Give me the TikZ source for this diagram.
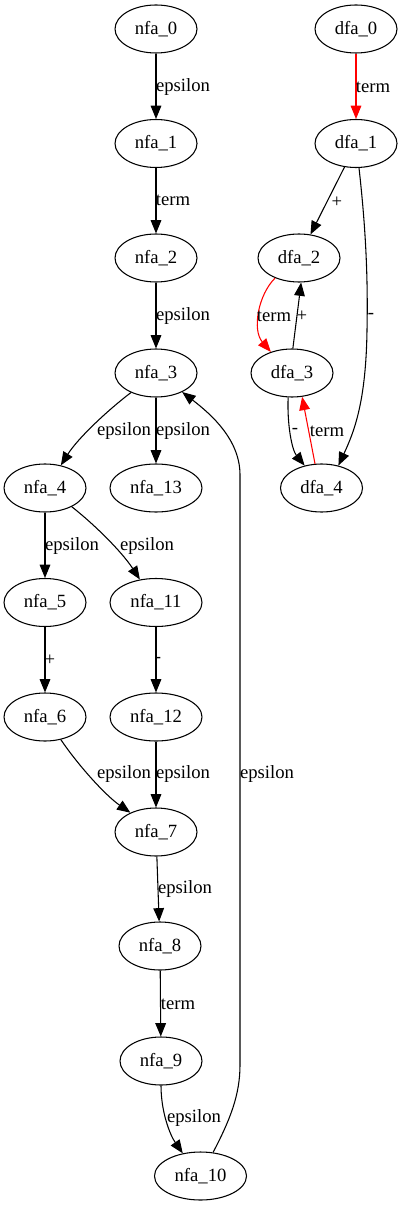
\documentclass[tikz,border=0pt]{standalone}
\usepackage{fontspec}
\setmainfont{Liberation Serif}
\usetikzlibrary{shapes.geometric,arrows.meta}
\begin{document}
\begin{tikzpicture}[x=0.75pt,y=-0.75pt,
  every node/.style={font=\fontsize{14}{16}\selectfont},
  st/.style={draw,ellipse,line width=0.8pt,minimum width=61.5pt,minimum height=36pt,inner sep=0pt},
  stw/.style={st,minimum width=69pt},
  edge/.style={line width=0.8pt,-{Triangle[length=10pt,width=8pt]}},
  redge/.style={edge,draw=red,-{Triangle[length=10pt,width=8pt,fill=red]}},
  lbl/.style={inner sep=0pt}]
\useasboundingbox (0,0) rectangle (402,1205);
% NFA nodes
\node[st] (nfa0) at (156,29) {nfa\_0};
\node[st] (nfa1) at (156,143.5) {nfa\_1};
\node[st] (nfa2) at (156,258) {nfa\_2};
\node[st] (nfa3) at (156,373) {nfa\_3};
\node[st] (nfa4) at (45,488) {nfa\_4};
\node[stw] (nfa13) at (156,488) {nfa\_13};
\node[st] (nfa5) at (45,602.5) {nfa\_5};
\node[stw] (nfa11) at (156,602.5) {nfa\_11};
\node[st] (nfa6) at (45,717) {nfa\_6};
\node[stw] (nfa12) at (156,717) {nfa\_12};
\node[st] (nfa7) at (156,832) {nfa\_7};
\node[st] (nfa8) at (160,946) {nfa\_8};
\node[st] (nfa9) at (161,1061) {nfa\_9};
\node[stw] (nfa10) at (200.5,1176) {nfa\_10};
% DFA nodes
\node[st] (dfa0) at (356,29) {dfa\_0};
\node[st] (dfa1) at (356,143.5) {dfa\_1};
\node[st] (dfa2) at (299,258) {dfa\_2};
\node[st] (dfa3) at (292,373) {dfa\_3};
\node[st] (dfa4) at (321.5,488) {dfa\_4};
% NFA edges
\draw[edge] (nfa0) -- (nfa1);
\node[lbl] (l01) at (183,87) {epsilon};
\draw[edge] (nfa1) -- (nfa2);
\node[lbl] (l12) at (173,200) {term};
\draw[edge] (nfa2) -- (nfa3);
\node[lbl] (l23) at (183,316) {epsilon};
\draw[edge] (nfa3.-142) .. controls (108,410) and (78,438) .. (nfa4.55);
\node[lbl] (l34) at (124,431) {epsilon};
\draw[edge] (nfa3) -- (nfa13);
\node[lbl] (l313) at (183,431) {epsilon};
\draw[edge] (nfa4) -- (nfa5);
\node[lbl] (l45) at (72,546) {epsilon};
\draw[edge] (nfa4.-35) .. controls (95,525) and (122,552) .. (nfa11.125);
\node[lbl] (l411) at (147,546) {epsilon};
\draw[edge] (nfa5) -- (nfa6);
\node[lbl] (l56) at (50,660) {+};
\draw[edge] (nfa11) -- (nfa12);
\node[lbl] (l1112) at (158,660) {-};
\draw[edge] (nfa6.-55) .. controls (78,765) and (105,795) .. (nfa7.143);
\node[lbl] (l67) at (124,774) {epsilon};
\draw[edge] (nfa12) -- (nfa7);
\node[lbl] (l127) at (183,774) {epsilon};
\draw[edge] (nfa7) -- (nfa8);
\node[lbl] (l78) at (185,889) {epsilon};
\draw[edge] (nfa8) -- (nfa9);
\node[lbl] (l89) at (178,1004) {term};
\draw[edge] (nfa9.south) .. controls (161,1112) and (170,1135) .. (nfa10.128);
\node[lbl] (l910) at (194,1118) {epsilon};
\draw[edge] (nfa10.62) .. controls (230,1120) and (240,1095) .. (240,1065)
  -- (240,475) .. controls (240,440) and (212,415) .. (nfa3.-36);
\node[lbl] (l103) at (267,774) {epsilon};
% DFA edges
\draw[redge] (dfa0) -- (dfa1);
\node[lbl] (d01) at (373,87) {term};
\draw[edge] (dfa1.-116) -- (dfa2.64);
\node[lbl] (d12) at (337,202) {+};
\draw[edge] (dfa1.-83) .. controls (366,230) and (368,280) .. (367,330)
  .. controls (366,400) and (355,430) .. (dfa4.53);
\node[lbl] (d14) at (371,316) {-};
\draw[redge] (dfa2.-140) .. controls (258,295) and (252,330) .. (dfa3.135);
\node[lbl] (d23) at (274,316) {term};
\draw[edge] (dfa3.88) -- (dfa2.-85);
\node[lbl] (d32) at (302,316) {+};
\draw[edge] (dfa3.-99) .. controls (287,425) and (292,450) .. (dfa4.127);
\node[lbl] (d34) at (295,431) {-};
\draw[redge] (dfa4.105) -- (dfa3.-67);
\node[lbl] (d43) at (327,431) {term};
\end{tikzpicture}
\end{document}
